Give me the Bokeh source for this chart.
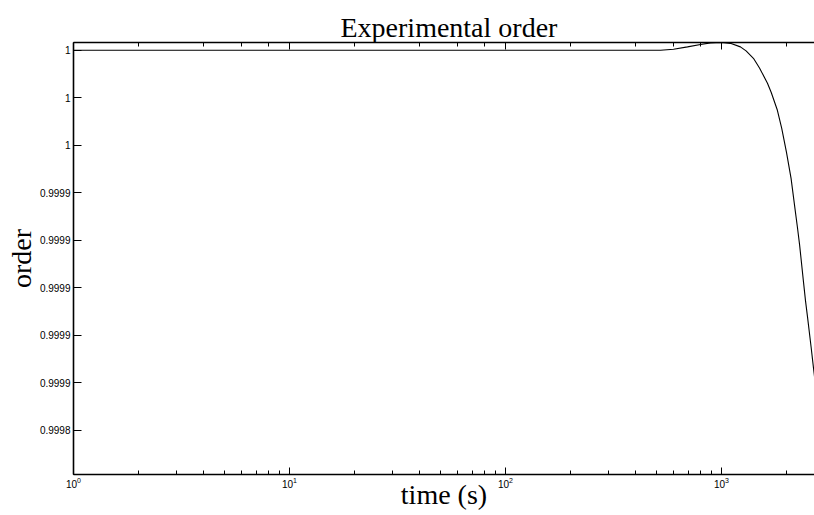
from bokeh.plotting import figure
from bokeh.models import LogAxis, Range1d, FixedTicker
from bokeh.embed import file_html
from bokeh.resources import INLINE

# time samples (s) and the measured order at each one
time_s = [1, 10, 100, 300, 522, 600, 696, 800, 890, 1000, 1100, 1224, 1300,
          1406, 1500, 1633, 1700, 1815, 1900, 2000, 2100, 2200, 2248, 2300,
          2400, 2449, 2500, 2600, 2667, 2700]
order = [1.0, 1.0, 1.0, 1.0, 1.0, 1.0000004, 1.0000014, 1.0000024, 1.0000031,
         1.0000033, 1.0000029, 1.0000014, 0.9999997, 0.9999966, 0.9999925,
         0.9999861, 0.9999822, 0.9999747, 0.9999672, 0.9999570, 0.9999460,
         0.9999318, 0.9999253, 0.9999180, 0.9999020, 0.9998945, 0.9998880,
         0.9998750, 0.9998662, 0.9998620]

# y ticks and their printed labels (rounded to four decimals)
y_ticks = [0.99984, 0.99986, 0.99988, 0.99990, 0.99992, 0.99994, 0.99996, 0.99998, 1.0]
y_tick_labels = ["0.9998", "0.9999", "0.9999", "0.9999", "0.9999", "0.9999", "1", "1", "1"]

x_start, x_end = 1, 2696
y_start, y_end = 0.99982127, 1.00000325

serif = "Liberation Serif"
tick_font = "Liberation Sans"

p = figure(width=814, height=515, x_axis_type="log",
           x_range=Range1d(x_start, x_end), y_range=Range1d(y_start, y_end),
           output_backend="svg", toolbar_location=None,
           min_border_left=73, min_border_right=0,
           min_border_top=42, min_border_bottom=41,
           title="Experimental order",
           x_axis_label="time (s)", y_axis_label="order")
p.outline_line_color = None
p.grid.visible = False
p.background_fill_color = "white"
p.border_fill_color = "white"

p.title.text_font = serif
p.title.text_font_size = "28px"
p.title.text_font_style = "normal"
p.title.text_color = "black"
p.title.align = "left"
p.title.standoff = 0
p.title.offset = 267

p.line(time_s, order, line_color="black", line_width=1.1)

xa = p.xaxis[0]
xa.axis_line_width = 1.6
xa.major_tick_in = 7
xa.major_tick_out = 0
xa.minor_tick_in = 4
xa.minor_tick_out = 0
xa.major_label_text_font = tick_font
xa.major_label_text_font_size = "10px"
xa.major_label_text_color = "black"
xa.major_label_standoff = 2
xa.axis_label_text_font = serif
xa.axis_label_text_font_size = "28px"
xa.axis_label_text_font_style = "normal"
xa.axis_label_text_color = "black"
xa.axis_label_standoff = -12

ya = p.yaxis[0]
ya.ticker = FixedTicker(ticks=y_ticks)
ya.major_label_overrides = {t: s for t, s in zip(y_ticks, y_tick_labels)}
ya.axis_line_width = 1.6
ya.major_tick_in = 8
ya.major_tick_out = 0
ya.minor_tick_line_color = None
ya.major_label_text_font = tick_font
ya.major_label_text_font_size = "10px"
ya.major_label_text_color = "black"
ya.major_label_standoff = 3
ya.axis_label_text_font = serif
ya.axis_label_text_font_size = "28px"
ya.axis_label_text_font_style = "normal"
ya.axis_label_text_color = "black"
ya.axis_label_standoff = 0

# top border: ticks only, labels hidden
top = LogAxis(axis_line_width=1.6, major_tick_in=7, major_tick_out=0,
              minor_tick_in=4, minor_tick_out=0,
              major_label_text_font_size="1px", major_label_text_color=None,
              major_label_standoff=0)
p.add_layout(top, "above")

open("out.html", "w").write(file_html(p, INLINE))
